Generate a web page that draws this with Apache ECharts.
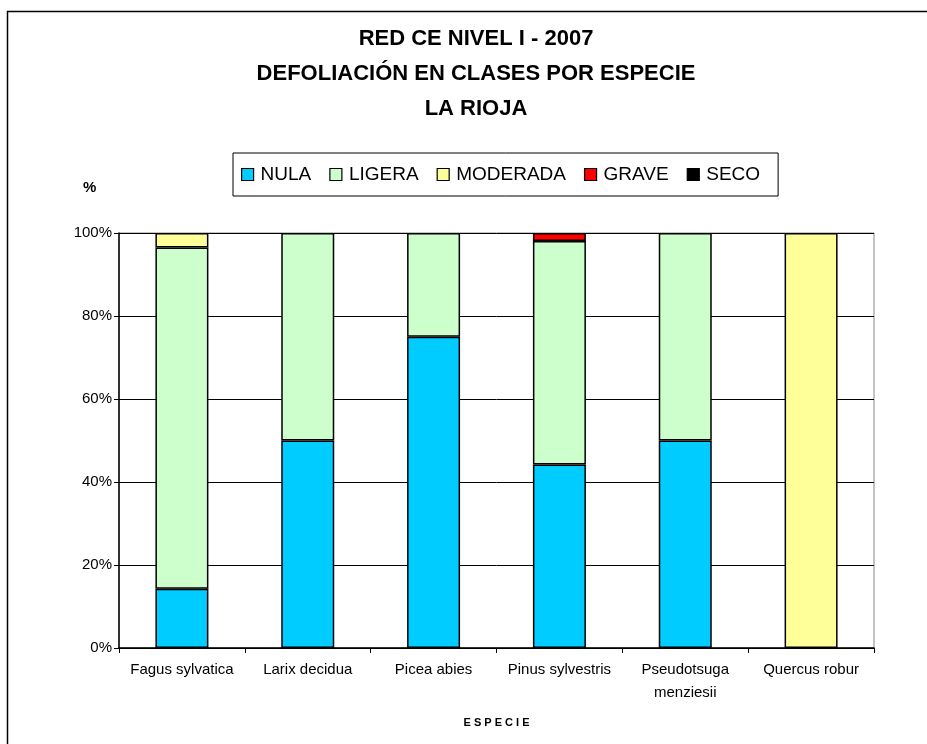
<!DOCTYPE html>
<html>
<head>
<meta charset="utf-8">
<title>Defoliación en clases por especie - La Rioja</title>
<script src="https://cdn.jsdelivr.net/npm/echarts@6/dist/echarts.min.js"></script>
<style>
  html, body { margin: 0; padding: 0; background: #fff; }
  #chart { width: 927px; height: 744px; }
</style>
</head>
<body>
<div id="chart"></div>
<script>
// especies (eje X)
const especies = ['Fagus sylvatica', 'Larix decidua', 'Picea abies', 'Pinus sylvestris', 'Pseudotsuga\nmenziesii', 'Quercus robur']

// clases de defoliación (%)
const nula = [14.3, 50, 75, 44.2, 50, null]
const ligera = [82.2, 50, 25, 53.9, 50, null]
const moderada = [3.5, null, null, null, null, 100]
const grave = [null, null, null, 1.9, null, null]
const seco = [null, null, null, null, null, null]

const clases = ['NULA', 'LIGERA', 'MODERADA', 'GRAVE', 'SECO']
const colores = ['#00CCFF', '#CCFFCC', '#FFFF99', '#FF0000', '#000000']
const valores = [nula, ligera, moderada, grave, seco]

const yTicks = [0, 20, 40, 60, 80, 100]

const FONT = '"Liberation Sans", Arial, sans-serif'

const chart = echarts.init(document.getElementById('chart'))

const option = {
  animation: false,
  backgroundColor: '#fff',
  textStyle: { fontFamily: FONT },
  title: {
    text: 'RED CE NIVEL I - 2007\nDEFOLIACIÓN EN CLASES POR ESPECIE\nLA RIOJA',
    left: 471,
    textAlign: 'center',
    top: 16,
    textStyle: {
      fontFamily: FONT,
      fontSize: 22,
      fontWeight: 'bold',
      color: '#000',
      lineHeight: 35,
      align: 'center'
    }
  },
  legend: {
    data: clases,
    left: 233,
    top: 153,
    icon: 'rect',
    itemWidth: 12,
    itemHeight: 12,
    itemGap: 18,
    padding: [12, 18, 12, 8],
    borderColor: '#000',
    borderWidth: 1,
    selectedMode: false,
    textStyle: {
      fontFamily: FONT,
      fontSize: 19,
      color: '#000',
      padding: [0, 0, 0, 2]
    },
    itemStyle: { borderColor: '#000', borderWidth: 1.2 }
  },
  graphic: [
    {
      type: 'rect',
      shape: { x: 7.5, y: 11.5, width: 1000, height: 1000 },
      style: { fill: 'none', stroke: '#000', lineWidth: 1.5 },
      silent: true,
      z: -10
    },
    {
      type: 'text',
      left: 83,
      top: 180,
      style: { text: '%', font: 'bold 15px ' + FONT, fill: '#000' }
    }
  ],
  grid: {
    left: 119,
    right: 53,
    top: 233,
    bottom: 96,
    show: true,
    borderColor: '#888',
    borderWidth: 1
  },
  xAxis: {
    type: 'category',
    data: especies,
    name: 'E S P E C I E',
    nameLocation: 'middle',
    nameGap: 69,
    nameTextStyle: { fontFamily: FONT, fontSize: 11, fontWeight: 'bold', color: '#000' },
    axisLine: { lineStyle: { color: '#000', width: 1.5 } },
    axisTick: { show: true, interval: 0, length: 5, lineStyle: { color: '#000' } },
    axisLabel: {
      interval: 0,
      hideOverlap: false,
      fontFamily: FONT,
      fontSize: 15,
      color: '#000',
      margin: 10,
      lineHeight: 23,
      verticalAlign: 'top'
    }
  },
  yAxis: {
    type: 'value',
    min: 0,
    max: 100,
    interval: 20,
    axisLine: { show: true, lineStyle: { color: '#000', width: 1.5 } },
    axisTick: { show: true, length: 5, lineStyle: { color: '#000' } },
    axisLabel: {
      fontFamily: FONT,
      fontSize: 15,
      color: '#000',
      margin: 7,
      formatter: v => yTicks.includes(v) ? v + '%' : ''
    },
    splitLine: { show: true, lineStyle: { color: '#000', width: 1 } }
  },
  series: clases.map((nombre, i) => ({
    name: nombre,
    type: 'bar',
    stack: 'total',
    barWidth: 53,
    data: valores[i],
    itemStyle: {
      color: colores[i],
      borderColor: '#000',
      borderWidth: 1.5
    }
  }))
}

chart.setOption(option)
</script>
</body>
</html>
